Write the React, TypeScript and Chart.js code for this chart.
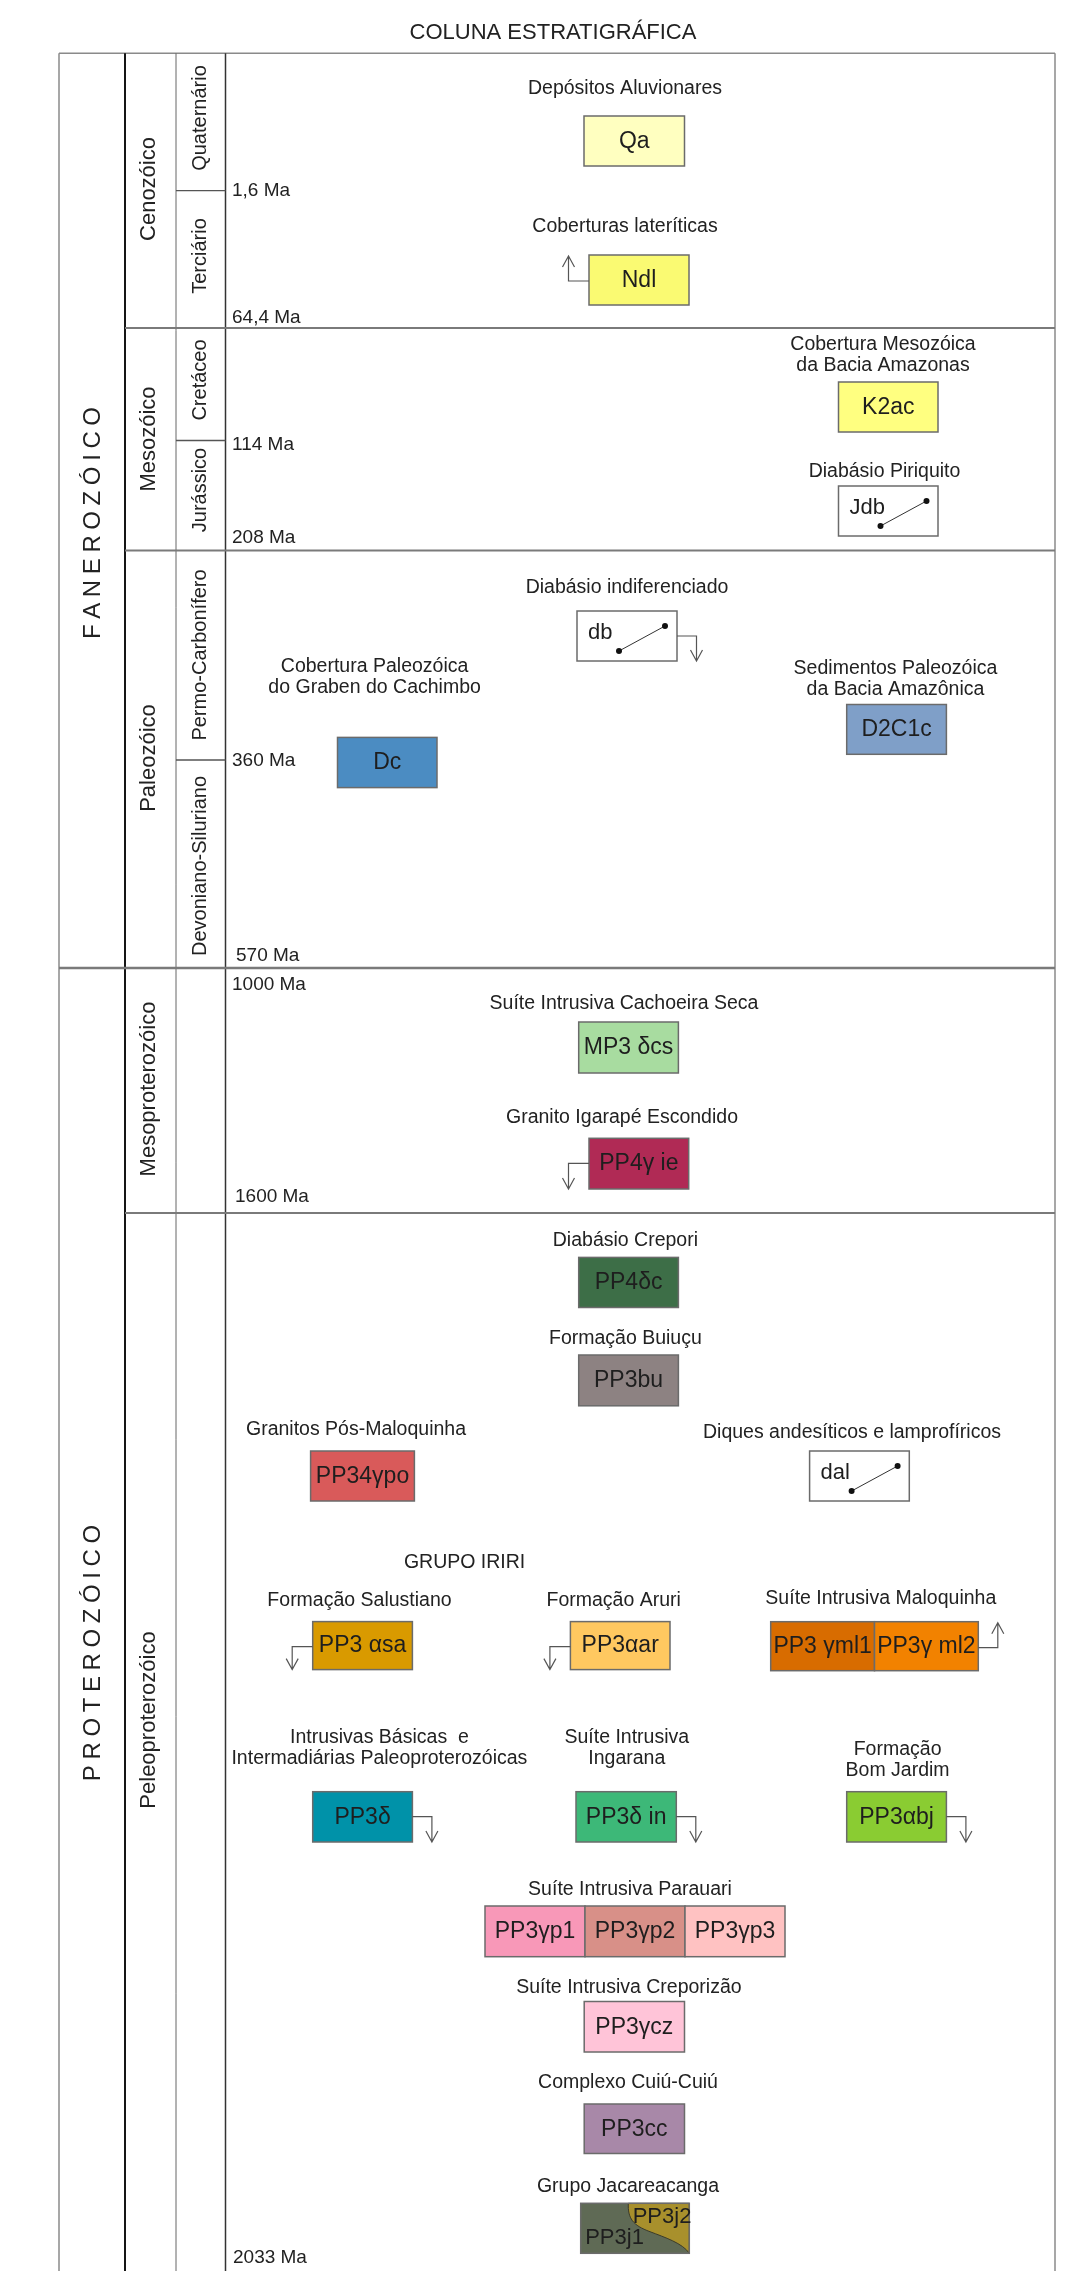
import React, { useEffect, useRef } from "react";
import { Chart, registerables } from "chart.js";
Chart.register(...registerables);

const W = 1078;
const H = 2271;
const FONT = '"Liberation Sans", Arial, sans-serif';

const TITLE = "COLUNA ESTRATIGRÁFICA";

// Eons
const eonNames = ["FANEROZÓICO", "PROTEROZÓICO"];
const eonLabelY = [523, 1653];
// Eras
const eraNames = ["Cenozóico", "Mesozóico", "Paleozóico", "Mesoproterozóico", "Peleoproterozóico"];
const eraLabelY = [189, 439, 758, 1089, 1720];
const eraBoundsY = [328, 550.5, 1213];
const eonBoundsY = [968];
// Periods
const periodNames = ["Quaternário", "Terciário", "Cretáceo", "Jurássico", "Permo-Carbonífero", "Devoniano-Siluriano"];
const periodLabelY = [118, 256, 380, 490, 655, 866];
const periodBoundsY = [190.7, 440.5, 760];
// Age tick labels
const ageLabels = ["1,6 Ma", "64,4 Ma", "114 Ma", "208 Ma", "360 Ma", "570 Ma", "1000 Ma", "1600 Ma", "2033 Ma"];
const ageLabelY = [190.5, 318, 445, 537.5, 761, 956, 985, 1196.5, 2258];
const ageLabelX = [232, 232, 232, 232, 232, 236, 232, 235, 233];

// Units
const unitNames = [
  "Depósitos Aluvionares",
  "Coberturas lateríticas",
  "Cobertura Mesozóica\nda Bacia Amazonas",
  "Diabásio Piriquito",
  "Diabásio indiferenciado",
  "Cobertura Paleozóica\ndo Graben do Cachimbo",
  "Sedimentos Paleozóica\nda Bacia Amazônica",
  "Suíte Intrusiva Cachoeira Seca",
  "Granito Igarapé Escondido",
  "Diabásio Crepori",
  "Formação Buiuçu",
  "Granitos Pós-Maloquinha",
  "Diques andesíticos e lamprofíricos",
  "Formação Salustiano",
  "Formação Aruri",
  "Suíte Intrusiva Maloquinha",
  "Intrusivas Básicas  e\nIntermadiárias Paleoproterozóicas",
  "Suíte Intrusiva\nIngarana",
  "Formação\nBom Jardim",
  "Suíte Intrusiva Parauari",
  "Suíte Intrusiva Creporizão",
  "Complexo Cuiú-Cuiú",
  "Grupo Jacareacanga",
];
const unitCodes = [
  ["Qa"],
  ["Ndl"],
  ["K2ac"],
  ["Jdb"],
  ["db"],
  ["Dc"],
  ["D2C1c"],
  ["MP3 δcs"],
  ["PP4γ ie"],
  ["PP4δc"],
  ["PP3bu"],
  ["PP34γpo"],
  ["dal"],
  ["PP3 αsa"],
  ["PP3αar"],
  ["PP3 γml1", "PP3γ ml2"],
  ["PP3δ"],
  ["PP3δ in"],
  ["PP3αbj"],
  ["PP3γp1", "PP3γp2", "PP3γp3"],
  ["PP3γcz"],
  ["PP3cc"],
  ["PP3j1", "PP3j2"],
];
const unitColors = [
  ["#FFFFC0"],
  ["#FAFA72"],
  ["#FFFF80"],
  ["#FFFFFF"],
  ["#FFFFFF"],
  ["#4B8CC2"],
  ["#7F9FC8"],
  ["#A8DCA0"],
  ["#B02A55"],
  ["#3D6E47"],
  ["#8D8282"],
  ["#D95A5A"],
  ["#FFFFFF"],
  ["#D99A00"],
  ["#FFC860"],
  ["#D86C00", "#F28200"],
  ["#0092A9"],
  ["#3DB878"],
  ["#8ACC32"],
  ["#F898B8", "#D89088", "#FFC2C2"],
  ["#FFC4D8"],
  ["#A888A8"],
  ["#5F6A55", "#A8902C"],
];
// kind: fill | dike | split ; arrow: side+direction
const unitKinds = ["fill", "fill", "fill", "dike", "dike", "fill", "fill", "fill", "fill", "fill", "fill", "fill", "dike", "fill", "fill", "fill", "fill", "fill", "fill", "fill", "fill", "fill", "split"];
const unitArrows = ["", "L-up", "", "", "R-down", "", "", "", "L-down", "", "", "", "", "L-down", "L-down", "R-up", "R-down", "R-down", "R-down", "", "", "", ""];

// Layout (diagram units)
const unitLabelX = [625, 625, 883, 884.5, 627, 374.6, 895.5, 624, 622, 625.4, 625.4, 356, 852, 359.5, 613.7, 880.8, 379.4, 626.8, 897.6, 630, 628.9, 628, 628];
const unitLabelY = [89, 226.7, 345, 472, 588, 667, 669, 1004, 1118, 1241, 1339, 1430, 1433, 1600.6, 1600.6, 1599, 1738, 1738, 1750, 1889.7, 1987.5, 2083, 2187];
const unitBoxX = [584, 589, 838.5, 838.5, 577, 337.5, 846.7, 578.7, 589, 578.7, 578.7, 310.6, 809.6, 312.7, 570.4, 770.7, 312.7, 576, 846.7, 485, 584.2, 584.2, 580.7];
const unitBoxY = [116, 255, 382, 486, 611, 737.4, 704.5, 1022, 1138.3, 1257.4, 1355, 1451, 1451, 1621.6, 1621.6, 1621.7, 1791.7, 1791.7, 1791.7, 1906, 2001.5, 2104, 2203.3];
const unitBoxW = [100.5, 100, 99.5, 99.5, 100, 99.5, 99.7, 99.7, 99.7, 99.7, 99.7, 103.8, 99.7, 99.7, 99.6, 103.8, 99.7, 100.3, 99.7, 100, 100.3, 100.3, 108.6];
const unitBoxH = [50, 50, 50, 50, 50, 50.2, 49.8, 51, 50.7, 50.1, 50.8, 50, 50, 48, 48, 49, 50.3, 50.3, 50.3, 50.7, 50.5, 49.5, 50];
const GRUPO_IRIRI = { text: "GRUPO IRIRI", x: 464.6, y: 1562.4 };

const App: React.FC = () => {
  const ref = useRef<HTMLCanvasElement | null>(null);

  useEffect(() => {
    document.body.style.margin = "0";
    const canvas = ref.current;
    if (!canvas) return;

    const drawPlugin = {
      id: "strat",
      afterDraw(chart: any) {
        const ctx: CanvasRenderingContext2D = chart.ctx;
        const xs = chart.scales.x;
        const ys = chart.scales.y;
        const X = (v: number) => xs.getPixelForValue(v);
        const Y = (v: number) => ys.getPixelForValue(v);
        const line = (x1: number, y1: number, x2: number, y2: number, color: string, w: number) => {
          ctx.beginPath();
          ctx.strokeStyle = color;
          ctx.lineWidth = w;
          ctx.moveTo(X(x1), Y(y1));
          ctx.lineTo(X(x2), Y(y2));
          ctx.stroke();
        };
        const text = (s: string, x: number, y: number, size: number, align: CanvasTextAlign = "center", color = "#222") => {
          ctx.font = `${size}px ${FONT}`;
          ctx.fillStyle = color;
          ctx.textAlign = align;
          ctx.textBaseline = "middle";
          ctx.fillText(s, X(x), Y(y));
        };
        const rotText = (s: string, x: number, y: number, size: number, spacing = 0) => {
          ctx.save();
          ctx.translate(X(x), Y(y));
          ctx.rotate(-Math.PI / 2);
          ctx.font = `${size}px ${FONT}`;
          ctx.fillStyle = "#222";
          ctx.textBaseline = "middle";
          if (spacing === 0) {
            ctx.textAlign = "center";
            ctx.fillText(s, 0, 0);
          } else {
            ctx.textAlign = "left";
            const chars = Array.from(s);
            const ws = chars.map((c) => ctx.measureText(c).width);
            const total = ws.reduce((a, b) => a + b, 0) + spacing * (chars.length - 1);
            let cx = -total / 2;
            chars.forEach((c, i) => {
              ctx.fillText(c, cx, 0);
              cx += ws[i] + spacing;
            });
          }
          ctx.restore();
        };

        ctx.save();
        // Title
        text(TITLE, 553, 33, 22);

        // Frame
        const L = 59, R = 1055, T = 53.3;
        line(L, T, R, T, "#8a8a8a", 1.5);
        line(L, T, L, H, "#8a8a8a", 1.5);
        line(R, T, R, H, "#8a8a8a", 1.5);
        line(125, T, 125, H, "#151515", 2);
        line(176, T, 176, H, "#666", 1);
        line(225.5, T, 225.5, H, "#333", 1.5);
        eraBoundsY.forEach((y) => line(125, y, R, y, "#7a7a7a", 2));
        eonBoundsY.forEach((y) => line(L, y, R, y, "#7a7a7a", 2.5));
        periodBoundsY.forEach((y) => line(176, y, 225.5, y, "#555", 1.3));

        // Labels in columns
        eonNames.forEach((n, i) => rotText(n, 93, eonLabelY[i], 24, 5.6));
        eraNames.forEach((n, i) => rotText(n, 149, eraLabelY[i], 22));
        periodNames.forEach((n, i) => rotText(n, 200, periodLabelY[i], 20));
        ageLabels.forEach((n, i) => text(n, ageLabelX[i], ageLabelY[i], 19, "left"));

        text(GRUPO_IRIRI.text, GRUPO_IRIRI.x, GRUPO_IRIRI.y, 19.5);

        // Units
        unitNames.forEach((name, i) => {
          const lines = name.split("\n");
          lines.forEach((ln, k) => text(ln, unitLabelX[i], unitLabelY[i] + k * 21, 19.5));

          const bx = unitBoxX[i], by = unitBoxY[i], bw = unitBoxW[i], bh = unitBoxH[i];
          const codes = unitCodes[i];
          const cols = unitColors[i];
          const kind = unitKinds[i];
          const nCells = kind === "split" ? 1 : codes.length;
          const totalW = bw * nCells;

          if (kind === "split") {
            ctx.fillStyle = cols[0];
            ctx.fillRect(X(bx), Y(by), X(bx + bw) - X(bx), Y(by + bh) - Y(by));
            ctx.beginPath();
            ctx.moveTo(X(bx + 47.6), Y(by));
            ctx.lineTo(X(bx + bw), Y(by));
            ctx.lineTo(X(bx + bw), Y(by + bh));
            ctx.bezierCurveTo(X(bx + 102), Y(by + 40), X(bx + 84), Y(by + 34), X(bx + 69.3), Y(by + 28.4));
            ctx.bezierCurveTo(X(bx + 52), Y(by + 22), X(bx + 47), Y(by + 15), X(bx + 47.6), Y(by));
            ctx.closePath();
            ctx.fillStyle = cols[1];
            ctx.fill();
            ctx.strokeStyle = "#3a3a2a";
            ctx.lineWidth = 1;
            ctx.stroke();
            ctx.strokeStyle = "#6b6b6b";
            ctx.lineWidth = 1.5;
            ctx.strokeRect(X(bx), Y(by), X(bx + bw) - X(bx), Y(by + bh) - Y(by));
            text(codes[0], bx + 4.5, by + 35, 22, "left", "#1e1e1e");
            text(codes[1], bx + 52, by + 14, 22, "left", "#1e1e1e");
          } else {
            codes.forEach((code, k) => {
              const cx = bx + k * bw;
              ctx.fillStyle = cols[k] ?? "#FFFFFF";
              ctx.fillRect(X(cx), Y(by), X(cx + bw) - X(cx), Y(by + bh) - Y(by));
              ctx.strokeStyle = "#6b6b6b";
              ctx.lineWidth = 1.5;
              ctx.strokeRect(X(cx), Y(by), X(cx + bw) - X(cx), Y(by + bh) - Y(by));
              if (kind === "dike") {
                text(code, cx + 11, by + 22, 22, "left", "#1e1e1e");
                const x1 = cx + 42, y1 = by + 40, x2 = cx + 88, y2 = by + 15;
                line(x1, y1, x2, y2, "#333", 1);
                ctx.fillStyle = "#111";
                [[x1, y1], [x2, y2]].forEach(([a, b]) => {
                  ctx.beginPath();
                  ctx.arc(X(a), Y(b), 3, 0, Math.PI * 2);
                  ctx.fill();
                });
              } else {
                text(code, cx + bw / 2, by + bh / 2 + 0.5, 23, "center", "#1e1e1e");
              }
            });
          }

          // arrow
          const arr = unitArrows[i];
          if (arr) {
            const [side, dir] = arr.split("-");
            const ex = side === "L" ? bx : bx + totalW;
            const ax = side === "L" ? bx - 20.5 : bx + totalW + 19.5;
            const ey = dir === "up" ? by + 26 : by + 25;
            const ty = dir === "up" ? by + 1 : by + bh;
            ctx.beginPath();
            ctx.strokeStyle = "#555";
            ctx.lineWidth = 1.2;
            ctx.moveTo(X(ex), Y(ey));
            ctx.lineTo(X(ax), Y(ey));
            ctx.lineTo(X(ax), Y(ty));
            const s = dir === "up" ? 1 : -1;
            ctx.moveTo(X(ax - 6), Y(ty + s * 11));
            ctx.lineTo(X(ax), Y(ty));
            ctx.lineTo(X(ax + 6), Y(ty + s * 11));
            ctx.stroke();
          }
        });
        ctx.restore();
      },
    };

    const chart = new Chart(canvas, {
      type: "scatter",
      data: {
        datasets: [
          {
            data: unitBoxX.map((x, i) => ({ x: x + unitBoxW[i] / 2, y: unitBoxY[i] + unitBoxH[i] / 2 })),
            pointRadius: 0,
            pointHoverRadius: 0,
          },
        ],
      },
      options: {
        animation: false,
        responsive: false,
        events: [],
        layout: { padding: 0 },
        plugins: { legend: { display: false }, tooltip: { enabled: false } },
        scales: {
          x: { type: "linear", min: 0, max: W, display: false },
          y: { type: "linear", min: 0, max: H, reverse: true, display: false },
        },
      },
      plugins: [drawPlugin],
    });
    return () => chart.destroy();
  }, []);

  return (
    <div style={{ width: W, height: H, background: "#fff" }}>
      <canvas ref={ref} width={W} height={H} style={{ display: "block", width: W, height: H }} />
    </div>
  );
};

export default App;
